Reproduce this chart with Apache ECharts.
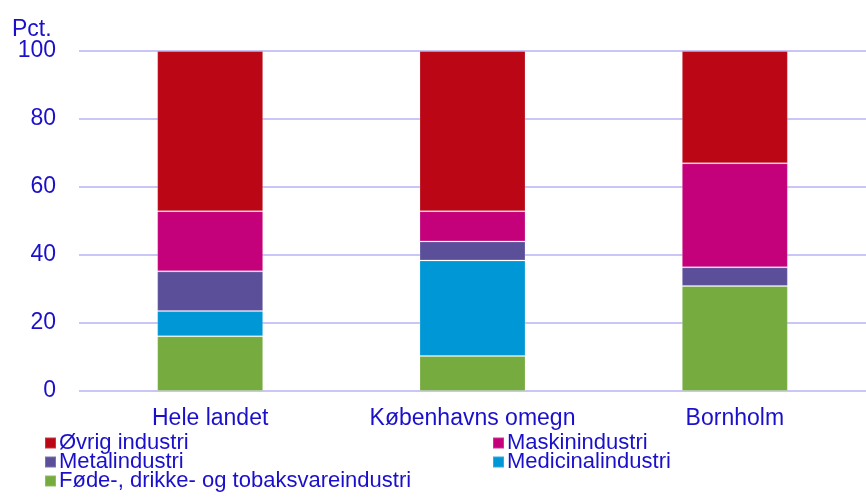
<!DOCTYPE html>
<html>
<head>
<meta charset="utf-8">
<script src="https://cdn.jsdelivr.net/npm/echarts@6/dist/echarts.min.js"></script>
<style>
	html, body { margin:0; padding:0; background:#fff; }
	#chart { width:866px; height:500px; }
</style>
</head>
<body>
<div id="chart"></div>
<script>
var categories = ['Hele landet', 'Københavns omegn', 'Bornholm'];
var seriesNames = ['Øvrig industri', 'Maskinindustri', 'Metalindustri', 'Medicinalindustri', 'Føde-, drikke- og tobaksvareindustri'];
// stacked from the bottom: føde, medicinal, metal, maskin, øvrig
var fodeValues = [16.1, 10.3, 30.9];
var medicinalValues = [7.4, 28.1, 0];
var metalValues = [11.7, 5.6, 5.5];
var maskinValues = [17.7, 8.9, 30.6];
var ovrigValues = [47.1, 47.1, 33.0];
var yTicks = [0, 20, 40, 60, 80, 100];

var textBlue = '#1a10cc';
var font = 'Liberation Sans, Arial, sans-serif';

var myChart = echarts.init(document.getElementById('chart'));

function bar(name, values, color){
	return {
		name: name,
		type: 'bar',
		stack: 'total',
		barWidth: 106,
		data: values,
		itemStyle: {
			color: color,
			borderColor: 'rgba(255,255,255,0.2)',
			borderWidth: 1
		}
	};
}

// one legend box per entry, two columns like the original
function legendItem(name, left, top){
	return {
		data: [name],
		left: left,
		top: top,
		padding: 0,
		itemWidth: 11,
		itemHeight: 11,
		itemGap: 0,
		icon: 'rect',
		textStyle: { color: textBlue, fontSize: 22, fontFamily: font, padding: [0, 0, 0, -2] }
	};
}

myChart.setOption({
	animation: false,
	title: {
		text: 'Pct.',
		left: 7,
		top: 13,
		textStyle: { color: textBlue, fontSize: 23, fontWeight: 'normal', fontFamily: font }
	},
	grid: { left: 79, right: -11, top: 51, bottom: 109, containLabel: false },
	legend: [
		legendItem(seriesNames[0], 44, 432),
		legendItem(seriesNames[2], 44, 451),
		legendItem(seriesNames[4], 44, 470),
		legendItem(seriesNames[1], 492, 432),
		legendItem(seriesNames[3], 492, 451)
	],
	xAxis: {
		type: 'category',
		data: categories,
		axisLine: { show: false },
		axisTick: { show: false },
		axisLabel: { color: textBlue, fontSize: 23, fontFamily: font, margin: 16, interval: 0 }
	},
	yAxis: {
		type: 'value',
		min: yTicks[0],
		max: yTicks[yTicks.length - 1],
		interval: 20,
		axisLine: { show: false },
		axisTick: { show: false },
		axisLabel: { color: textBlue, fontSize: 23, fontFamily: font, margin: 23 },
		splitLine: { lineStyle: { color: '#c9c5f7', width: 2 } }
	},
	series: [
		bar(seriesNames[4], fodeValues, '#76ab3f'),
		bar(seriesNames[3], medicinalValues, '#0097d6'),
		bar(seriesNames[2], metalValues, '#5b4f9a'),
		bar(seriesNames[1], maskinValues, '#c4007a'),
		bar(seriesNames[0], ovrigValues, '#ba0615')
	]
});
</script>
</body>
</html>
